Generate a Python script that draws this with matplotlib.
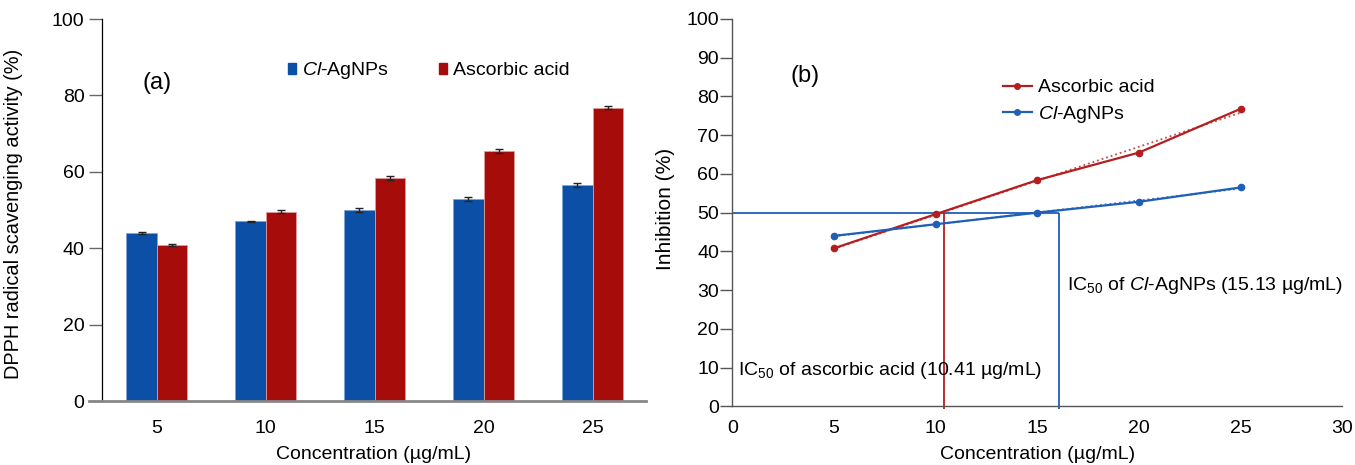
import matplotlib
matplotlib.use('Agg')
import matplotlib.pyplot as plt
import numpy as np
from matplotlib.patches import Patch
from matplotlib.lines import Line2D

plt.rcParams['font.family'] = ['Liberation Sans', 'DejaVu Sans']
plt.rcParams['mathtext.fontset'] = 'custom'
plt.rcParams['mathtext.rm'] = 'Liberation Sans'
plt.rcParams['mathtext.it'] = 'Liberation Sans:italic'

BLUE = '#0c4fa6'
RED = '#a60c0a'
LBLUE = '#1f5fb8'
LRED = '#b51e1e'

# data
conc = [5, 10, 15, 20, 25]
agnp = [44.0, 47.0, 50.0, 52.8, 56.5]
agnp_err = [0.2, 0.2, 0.5, 0.5, 0.5]
asc = [40.8, 49.6, 58.4, 65.5, 76.8]
asc_err = [0.2, 0.4, 0.5, 0.6, 0.4]
ic50_asc = 10.43
ic50_agnp = 16.05

CL = r'$\mathit{Cl}$-AgNPs'
FS = 14

fig = plt.figure(figsize=(13.55, 4.65), dpi=100)

# ---- (a) bars
ax1 = fig.add_axes([0.0751, 0.1376, 0.4017, 0.8215])
idx = np.arange(len(conc))
w = 0.28
ax1.bar(idx - w / 2, agnp, w, color=BLUE, edgecolor='#7fa3d6', linewidth=0.6,
        yerr=agnp_err, capsize=3, error_kw=dict(ecolor='#222222', elinewidth=1, capthick=1))
ax1.bar(idx + w / 2, asc, w, color=RED, edgecolor='#e09a9a', linewidth=0.6,
        yerr=asc_err, capsize=3, error_kw=dict(ecolor='#222222', elinewidth=1, capthick=1))
ax1.set_xlim(-0.505, 4.49)
ax1.set_ylim(0, 100)
ax1.set_xticks(idx)
ax1.set_xticklabels([str(c) for c in conc])
ax1.set_yticks(range(0, 101, 20))
ax1.tick_params(axis='x', length=0, pad=14, labelsize=FS)
ax1.tick_params(axis='y', length=9.5, width=1, color='#666666', pad=3, labelsize=FS)
for s in ['top', 'right']:
    ax1.spines[s].set_visible(False)
ax1.spines['left'].set_color('black')
ax1.spines['left'].set_linewidth(0.9)
ax1.spines['bottom'].set_color('#888888')
ax1.spines['bottom'].set_linewidth(2)
ax1.spines['bottom'].set_bounds(-0.505 - 0.12, 4.49)
ax1.set_xlabel('Concentration (µg/mL)', fontsize=FS)
ax1.xaxis.set_label_coords(0.5, -0.118)
ax1.set_ylabel('DPPH radical scavenging activity (%)', fontsize=14.4)
ax1.yaxis.set_label_coords(-0.144, 0.49)
ax1.text(0.0, 83.2, '(a)', fontsize=17, ha='center', va='center')
ax1.legend(handles=[Patch(color=BLUE, label=CL), Patch(color=RED, label='Ascorbic acid')],
           ncol=2, frameon=False, fontsize=FS, loc='center left', bbox_to_anchor=(0.342, 0.864),
           borderpad=0, borderaxespad=0, handlelength=0.42, handleheight=0.42,
           handletextpad=0.28, columnspacing=2.6)

# ---- (b) lines
ax2 = fig.add_axes([0.5404, 0.1262, 0.4502, 0.833])
ax2.set_xlim(0, 30)
ax2.set_ylim(0, 100)

ax2.hlines(50, 0, ic50_agnp, color=LBLUE, lw=1.3)
ax2.vlines(ic50_asc, -0.6, 50, color=LRED, lw=1.3, clip_on=False)
ax2.vlines(ic50_agnp, -0.6, 50, color=LBLUE, lw=1.3, clip_on=False)

for y, c in [(asc, LRED), (agnp, LBLUE)]:
    k, b = np.polyfit(conc, y, 1)
    xs = np.array([conc[0], conc[-1]])
    ax2.plot(xs, k * xs + b, ':', color=c, lw=1.3, alpha=0.8)
ax2.plot(conc, asc, '-o', color=LRED, lw=1.6, ms=4.5)
ax2.plot(conc, agnp, '-o', color=LBLUE, lw=1.6, ms=4.5)

ax2.set_xticks(range(0, 31, 5))
ax2.set_yticks(range(0, 101, 10))
ax2.tick_params(axis='x', length=0, pad=10, labelsize=FS)
ax2.tick_params(axis='y', length=8.5, width=1, color='#555555', pad=1, labelsize=FS)
for s in ['top', 'right']:
    ax2.spines[s].set_visible(False)
for s in ['left', 'bottom']:
    ax2.spines[s].set_color('#555555')
    ax2.spines[s].set_linewidth(1)
ax2.set_xlabel('Concentration (µg/mL)', fontsize=FS)
ax2.xaxis.set_label_coords(0.5, -0.1025)
ax2.set_ylabel('Inhibition (%)', fontsize=15)
ax2.yaxis.set_label_coords(-0.094, 0.51)
ax2.text(3.57, 85.3, '(b)', fontsize=17, ha='center', va='center')
ax2.text(16.45, 31.3, r'IC$_{\mathrm{50}}$ of ' + CL + ' (15.13 µg/mL)', fontsize=FS,
         ha='left', va='center')
ax2.text(0.3, 9.2, r'IC$_{\mathrm{50}}$ of ascorbic acid (10.41 µg/mL)', fontsize=FS,
         ha='left', va='center')
ax2.legend(handles=[Line2D([], [], color=LRED, marker='o', ms=4, lw=1.6, label='Ascorbic acid'),
                    Line2D([], [], color=LBLUE, marker='o', ms=4, lw=1.6, label=CL)],
           frameon=False, fontsize=FS, loc='center left', bbox_to_anchor=(0.444, 0.786),
           borderpad=0, borderaxespad=0, handlelength=1.48, handletextpad=0.32,
           labelspacing=0.39)

fig.savefig('out.png', dpi=100)
